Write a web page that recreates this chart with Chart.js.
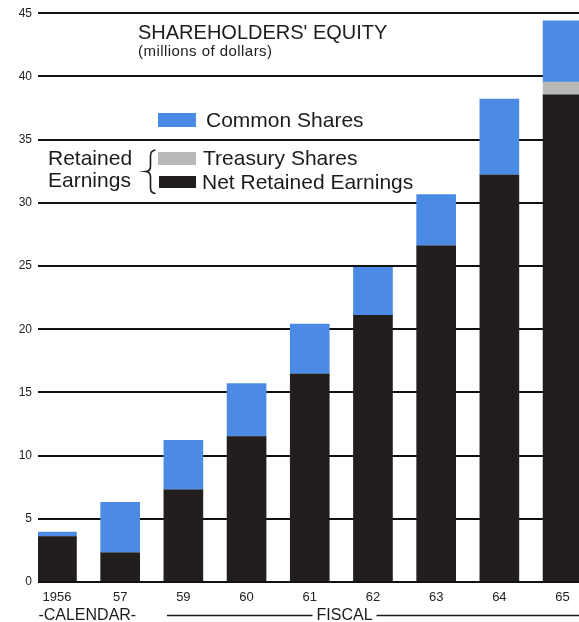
<!DOCTYPE html>
<html>
<head>
<meta charset="utf-8">
<script src="https://cdn.jsdelivr.net/npm/chart.js@4/dist/chart.umd.min.js"></script>
<style>
  html, body { margin: 0; padding: 0; background: #fff; overflow: hidden; }
  canvas { display: block; }
</style>
</head>
<body>
<canvas id="equity" width="579" height="622"></canvas>
<script>
// Shareholders' equity, millions of dollars
const years = ['1956', '57', '59', '60', '61', '62', '63', '64', '65'];
const netRetainedEarnings = [3.6, 2.3, 7.3, 11.5, 16.45, 21.1, 26.6, 32.2, 38.55];
const treasuryShares = [0, 0, 0, 0, 0, 0, 0, 0, 1.0];
const commonShares = [0.35, 4.0, 3.9, 4.2, 3.95, 3.8, 4.05, 6.0, 4.85];
const yTickStep = 5;
const yMax = 45;

const titleText = "SHAREHOLDERS' EQUITY";
const subtitleText = '(millions of dollars)';
const groupLabel = ['Retained', 'Earnings'];
const calendarLabel = '-CALENDAR-';
const fiscalLabel = 'FISCAL';

const FONT = '"Liberation Sans", Arial, Helvetica, sans-serif';
const BLUE = '#4b8be6';
const GRAY = '#b9b9b9';
const BLACK = '#221e1e';
const INK = '#1c1c1c';

const toPoints = arr => arr.map((v, i) => ({ x: i, y: v }));

const annotations = {
  id: 'annotations',
  afterDraw(chart) {
    const { ctx } = chart;
    const xs = chart.scales.x;
    ctx.save();
    ctx.fillStyle = INK;
    ctx.textBaseline = 'alphabetic';
    ctx.textAlign = 'left';

    // title block
    ctx.font = '20px ' + FONT;
    ctx.fillText(titleText, 138, 39);
    ctx.font = '15px ' + FONT;
    ctx.letterSpacing = '0.45px';
    ctx.fillText(subtitleText, 138, 56);
    ctx.letterSpacing = '0px';

    // legend
    const ds = chart.data.datasets;
    const swX = 158, swW = 38;
    ctx.font = '21px ' + FONT;
    // Common Shares
    ctx.fillStyle = ds[2].backgroundColor;
    ctx.fillRect(swX, 113, swW, 14);
    ctx.fillStyle = INK;
    ctx.fillText(ds[2].label, 206, 127);
    // Treasury Shares
    ctx.fillStyle = ds[1].backgroundColor;
    ctx.fillRect(swX, 152, swW, 13);
    ctx.fillStyle = INK;
    ctx.fillText(ds[1].label, 203, 165);
    // Net Retained Earnings
    ctx.fillStyle = ds[0].backgroundColor;
    ctx.fillRect(swX + 1, 176, swW - 1, 12);
    ctx.fillStyle = INK;
    ctx.fillText(ds[0].label, 202, 189);
    // group label and brace
    ctx.fillText(groupLabel[0], 48, 165);
    ctx.fillText(groupLabel[1], 48, 187);
    ctx.strokeStyle = INK;
    ctx.lineWidth = 1.6;
    ctx.beginPath();
    ctx.moveTo(155.5, 150);
    ctx.quadraticCurveTo(150.5, 150.5, 150.5, 156);
    ctx.lineTo(150.5, 166);
    ctx.quadraticCurveTo(150.5, 171, 146, 171.5);
    ctx.quadraticCurveTo(150.5, 172, 150.5, 177);
    ctx.lineTo(150.5, 188);
    ctx.quadraticCurveTo(150.5, 193, 155.5, 193.5);
    ctx.stroke();

    // calendar / fiscal period labels under the axis
    const baseY = 620;
    ctx.font = '16px ' + FONT;
    ctx.textAlign = 'center';
    ctx.fillText(calendarLabel, xs.getPixelForValue(0.48), baseY);
    const fiscalCenter = xs.getPixelForValue(4.55);
    ctx.fillText(fiscalLabel, fiscalCenter, baseY);
    const fw = ctx.measureText(fiscalLabel).width;
    ctx.lineWidth = 1.5;
    ctx.beginPath();
    ctx.moveTo(xs.getPixelForValue(1.74), 615.5);
    ctx.lineTo(fiscalCenter - fw / 2 - 4, 615.5);
    ctx.moveTo(fiscalCenter + fw / 2 + 4, 615.5);
    ctx.lineTo(chart.width, 615.5);
    ctx.stroke();
    ctx.restore();
  }
};

new Chart(document.getElementById('equity'), {
  type: 'bar',
  data: {
    datasets: [
      { label: 'Net Retained Earnings', data: toPoints(netRetainedEarnings), backgroundColor: BLACK },
      { label: 'Treasury Shares', data: toPoints(treasuryShares), backgroundColor: GRAY },
      { label: 'Common Shares', data: toPoints(commonShares), backgroundColor: BLUE }
    ]
  },
  options: {
    responsive: false,
    animation: false,
    events: [],
    barThickness: 39,
    borderWidth: 0,
    layout: { padding: { top: 13, right: 0, bottom: 0, left: 0 } },
    plugins: { legend: { display: false }, tooltip: { enabled: false }, title: { display: false } },
    scales: {
      x: {
        type: 'linear',
        stacked: true,
        offset: false,
        min: -0.3,
        max: 8.26,
        grid: { display: false, offset: false },
        border: { display: false },
        afterBuildTicks: axis => { axis.ticks = years.map((_, i) => ({ value: i })); },
        afterFit: axis => { axis.height = 40; },
        ticks: {
          padding: 0,
          maxRotation: 0,
          autoSkip: false,
          color: '#222',
          font: { family: FONT, size: 13 },
          callback: v => years[v]
        }
      },
      y: {
        stacked: true,
        min: 0,
        max: yMax,
        grid: { color: '#111', lineWidth: 2, drawTicks: false },
        border: { display: false },
        afterFit: axis => { axis.width = 38; },
        ticks: {
          stepSize: yTickStep,
          padding: 6,
          color: '#222',
          font: { family: FONT, size: 12 }
        }
      }
    }
  },
  plugins: [annotations]
});
</script>
</body>
</html>
